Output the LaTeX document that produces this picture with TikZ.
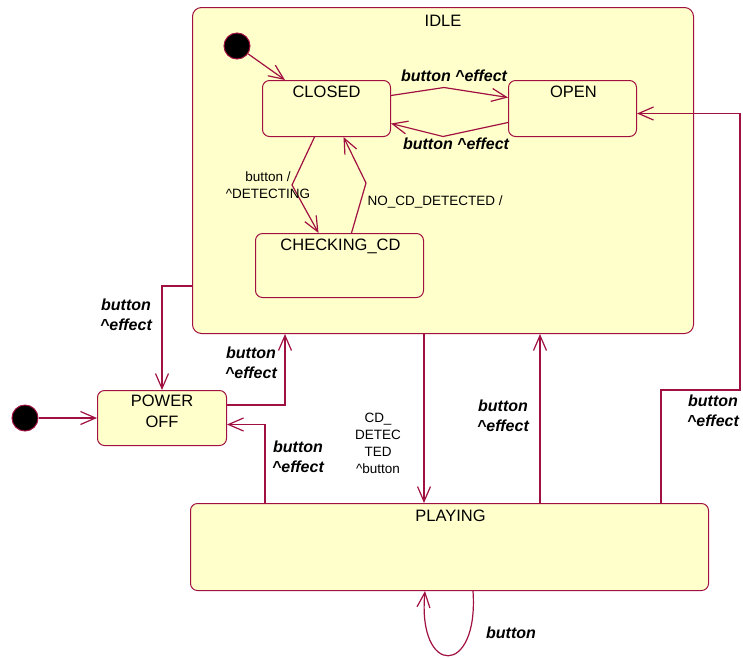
\documentclass[tikz,border=0pt]{standalone}
\usepackage{fontspec}
\setmainfont{Liberation Sans}
\usetikzlibrary{arrows.meta, positioning, calc}
\definecolor{stline}{RGB}{160,16,64}
\definecolor{stfill}{RGB}{255,255,204}

\begin{document}
\begin{tikzpicture}[x=1pt, y=-1pt,
  state/.style={draw=stline, fill=stfill, line width=1pt, rounded corners=7pt, anchor=north west, inner sep=0pt},
  stname/.style={font=\fontsize{16.5}{21}\selectfont, align=center, inner sep=0pt},
  initial/.style={circle, draw=stline, fill=black, line width=1pt, minimum size=26pt, inner sep=0pt},
  tr/.style={draw=stline, line width=1.2pt, -{Straight Barb[length=15pt, width=13pt]}},
  eff/.style={font=\fontsize{16}{20}\selectfont\bfseries\itshape, align=center, inner sep=0pt},
  guard/.style={font=\fontsize{13.5}{17}\selectfont, align=center, inner sep=0pt}]
  \useasboundingbox (0,0) rectangle (743,657);

  % States
  \node[state, minimum width=501pt, minimum height=326pt, rounded corners=9pt] (idle) at (192,7) {};
  \node[state, minimum width=128pt, minimum height=56pt] (closed) at (262,80) {};
  \node[state, minimum width=128pt, minimum height=56pt] (open) at (508,80) {};
  \node[state, minimum width=168pt, minimum height=64pt] (checking) at (255,233) {};
  \node[state, minimum width=129pt, minimum height=55pt] (poweroff) at (97,390) {};
  \node[state, minimum width=518pt, minimum height=87pt] (playing) at (190,503) {};

  % State names
  \node[stname] (idle-t) at ($(idle.north)+(0,14)$) {IDLE};
  \node[stname] (closed-t) at ($(closed.north)+(0,12)$) {CLOSED};
  \node[stname] (open-t) at ($(open.north)+(1,12)$) {OPEN};
  \node[stname] (checking-t) at ($(checking.north)+(1,13)$) {CHECKING\_CD};
  \node[stname] (poweroff-t) at ($(poweroff.north)+(0,21.5)$) {POWER\\OFF};
  \node[stname] (playing-t) at ($(playing.north)+(1,13)$) {PLAYING};

  % Initial states
  \node[initial] (init-idle) at (237,46) {};
  \node[initial] (init-top) at (25,418) {};

  % Transitions inside IDLE
  \draw[tr] (init-idle) -- ($(closed.north west)+(23,0)$);
  \draw[tr] ($(closed.east)+(0,-13)$) -- ++(53,-8)
    node[eff, above=5pt, xshift=10pt] (e1) {button \textasciicircum effect}
    -- ($(open.west)+(0,-11)$);
  \draw[tr] ($(open.west)+(0,14)$) -- ++(-65,14)
    node[eff, below=1pt, xshift=13pt] (e2) {button \textasciicircum effect}
    -- ($(closed.east)+(0,15)$);
  \draw[tr] ($(closed.south)+(-12,0)$) -- (292,185)
    node[guard, xshift=-24pt] (g1) {button /\\\textasciicircum DETECTING}
    -- ($(checking.north)+(-21,0)$);
  \draw[tr] ($(checking.north)+(12,0)$) -- (366,183)
    node[guard, anchor=west, xshift=1pt, yshift=-19pt] (g2) {NO\_CD\_DETECTED /}
    -- ($(closed.south)+(17,0)$);

  % Transitions between top states
  \draw[tr] (init-top) -- (poweroff.west);
  \draw[tr] ($(idle.south west)+(0,-48)$) -| (poweroff.north);
  \draw[tr] ($(poweroff.east)+(0,-13)$) -| ($(idle.south west)+(93,0)$);
  \draw[tr] ($(playing.north west)+(75,0)$) |- ($(poweroff.east)+(0,6.5)$);
  \draw[tr] ($(idle.south west)+(232,0)$) -- ($(playing.north west)+(234,0)$);
  \draw[tr] ($(playing.north west)+(350,0)$) -- ($(idle.south west)+(348,0)$);
  \coordinate (rbend) at (740,390);
  \draw[tr] ($(playing.north west)+(471,0)$) |- (rbend) |- ($(open.east)+(0,5)$);
  \draw[tr] ($(playing.south west)+(283,0)$) .. controls +(6,86) and +(-8,86) .. ($(playing.south west)+(235,0)$);

  % Labels
  \foreach \x/\y/\nm in {126/315/e3, 251/363/e4, 298/457/e5, 503/416/e6, 713/411/e7}
    \node[eff] (\nm) at (\x,\y) {button\\\textasciicircum effect};
  \node[guard] (g3) at (378,443) {CD\_\\DETEC\\TED\\\textasciicircum button};
  \node[eff] (e8) at (511,633) {button};
\end{tikzpicture}
\end{document}
